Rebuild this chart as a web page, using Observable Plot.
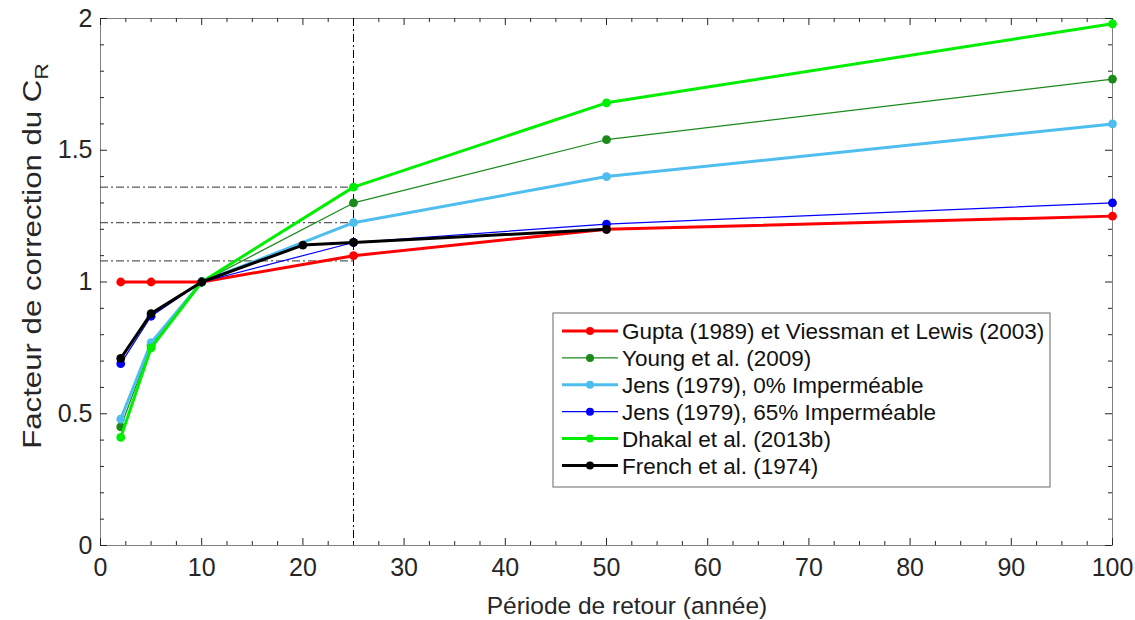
<!DOCTYPE html>
<html><head><meta charset="utf-8">
<script src="https://cdn.jsdelivr.net/npm/d3@7"></script>
<script src="https://cdn.jsdelivr.net/npm/@observablehq/plot@0.6"></script>
<style>body{margin:0;background:#fff;} #chart{width:1135px;height:620px;}</style>
</head><body><div id="chart"></div>
<script>
// ---- data ----
const periods = [2, 5, 10, 25, 50, 100];
const frenchPeriods = [2, 5, 10, 20, 25, 50];
const gupta  = [1.00, 1.00, 1.00, 1.10, 1.20, 1.25];
const young  = [0.45, 0.76, 1.00, 1.30, 1.54, 1.77];
const jens0  = [0.48, 0.77, 1.00, 1.225, 1.40, 1.60];
const jens65 = [0.69, 0.87, 1.00, 1.15, 1.22, 1.30];
const dhakal = [0.41, 0.75, 1.00, 1.36, 1.68, 1.98];
const french = [0.71, 0.88, 1.00, 1.14, 1.15, 1.20];
const seriesNames = [
  "Gupta (1989) et Viessman et Lewis (2003)",
  "Young et al. (2009)",
  "Jens (1979), 0% Imperméable",
  "Jens (1979), 65% Imperméable",
  "Dhakal et al. (2013b)",
  "French et al. (1974)"
];
const refPeriod = 25;
const refLevels = [1.36, 1.225, 1.08];
const xMajor = [0, 10, 20, 30, 40, 50, 60, 70, 80, 90, 100];
const yMajor = [0, 0.5, 1, 1.5, 2];
const xLabel = "Période de retour (année)";
const yLabel = "Facteur de correction du C";
const yLabelSub = "R";

// ---- styles ----
const seriesStyle = [
  {color: "#ff0000", width: 3},
  {color: "#1b8a1b", width: 1.2},
  {color: "#4dbeee", width: 3},
  {color: "#0000ff", width: 1.2},
  {color: "#00ee00", width: 3},
  {color: "#000000", width: 3}
];
const seriesX = [periods, periods, periods, periods, periods, frenchPeriods];
const seriesY = [gupta, young, jens0, jens65, dhakal, french];
const xMinor = d3.range(0, 100.01, 2.5).filter(v => v % 10 !== 0);
const yMinor = d3.range(0, 2.001, 0.1).map(v => +v.toFixed(1)).filter(v => Math.round(v * 10) % 5 !== 0);

const series = seriesNames.map((name, i) => ({
  name, ...seriesStyle[i],
  rows: seriesX[i].map((x, j) => ({x, y: seriesY[i][j]}))
}));

const font = "Liberation Sans, Arial, Helvetica, sans-serif";
const tickColor = "#262626";
const frameColor = "#808080";
const W = 1135, H = 620, ML = 100, MR = 23, MT = 18, MB = 75;
const PW = W - ML - MR, PH = H - MT - MB;
const MAJ = 7, MIN = 4;
const tk = {stroke: tickColor, strokeWidth: 1};

const marks = [
  Plot.frame({stroke: frameColor}),
  // tick labels
  Plot.axisX({anchor: "bottom", ticks: xMajor, tickSize: 0, tickPadding: 13, fontSize: 25, label: null, tickFormat: d => String(d)}),
  Plot.axisY({anchor: "left", ticks: yMajor, tickSize: 0, tickPadding: 8, fontSize: 25, label: null, tickFormat: d => String(d)}),
  // inward ticks on all four sides
  Plot.ruleX(xMajor, {...tk, insetTop: PH - MAJ}),
  Plot.ruleX(xMinor, {...tk, insetTop: PH - MIN}),
  Plot.ruleX(xMajor, {...tk, insetBottom: PH - MAJ}),
  Plot.ruleX(xMinor, {...tk, insetBottom: PH - MIN}),
  Plot.ruleY(yMajor, {...tk, insetRight: PW - MAJ}),
  Plot.ruleY(yMinor, {...tk, insetRight: PW - MIN}),
  Plot.ruleY(yMajor, {...tk, insetLeft: PW - MAJ}),
  Plot.ruleY(yMinor, {...tk, insetLeft: PW - MIN}),
  // reference lines
  Plot.ruleY(refLevels, {x1: 0, x2: refPeriod, stroke: "#333", strokeWidth: 1, strokeDasharray: "8,3,2,3"}),
  Plot.ruleX([refPeriod], {stroke: "#000", strokeWidth: 1, strokeDasharray: "8,3,2,3"})
];
for (const s of series) {
  marks.push(Plot.line(s.rows, {x: "x", y: "y", stroke: s.color, strokeWidth: s.width}));
  marks.push(Plot.dot(s.rows, {x: "x", y: "y", r: 4.4, fill: s.color, stroke: "none"}));
}

const plot = Plot.plot({
  width: W, height: H,
  marginLeft: ML, marginRight: MR, marginTop: MT, marginBottom: MB,
  x: {domain: [0, 100], axis: null},
  y: {domain: [0, 2], axis: null},
  style: {fontFamily: font, color: tickColor, background: "white", overflow: "visible"},
  marks
});

const svg = d3.select(plot);
// axis titles
svg.append("text")
  .attr("x", 627).attr("y", 614)
  .attr("text-anchor", "middle")
  .attr("font-size", 24.5).attr("font-family", font).attr("fill", tickColor)
  .text(xLabel);
const yl = svg.append("text")
  .attr("transform", "translate(41,256) rotate(-90) scale(1.2,1)")
  .attr("text-anchor", "middle")
  .attr("font-size", 26).attr("font-family", font).attr("fill", tickColor);
yl.append("tspan").text(yLabel);
yl.append("tspan").attr("font-size", 19).attr("dy", 7).text(yLabelSub);

// legend
const lg = svg.append("g").attr("transform", "translate(553,313)");
lg.append("rect").attr("width", 497).attr("height", 174).attr("fill", "white").attr("stroke", frameColor).attr("stroke-width", 1.2);
series.forEach((s, i) => {
  const yy = 18 + i * 26.9;
  lg.append("line").attr("x1", 9).attr("x2", 65).attr("y1", yy).attr("y2", yy)
    .attr("stroke", s.color).attr("stroke-width", s.width);
  lg.append("circle").attr("cx", 37).attr("cy", yy).attr("r", 4).attr("fill", s.color);
  lg.append("text").attr("x", 69).attr("y", yy).attr("dy", "0.36em")
    .attr("text-anchor", "start")
    .attr("font-size", 22.5).attr("font-family", font).attr("fill", "#111")
    .text(s.name);
});

document.getElementById("chart").appendChild(plot);
</script>
</body></html>
